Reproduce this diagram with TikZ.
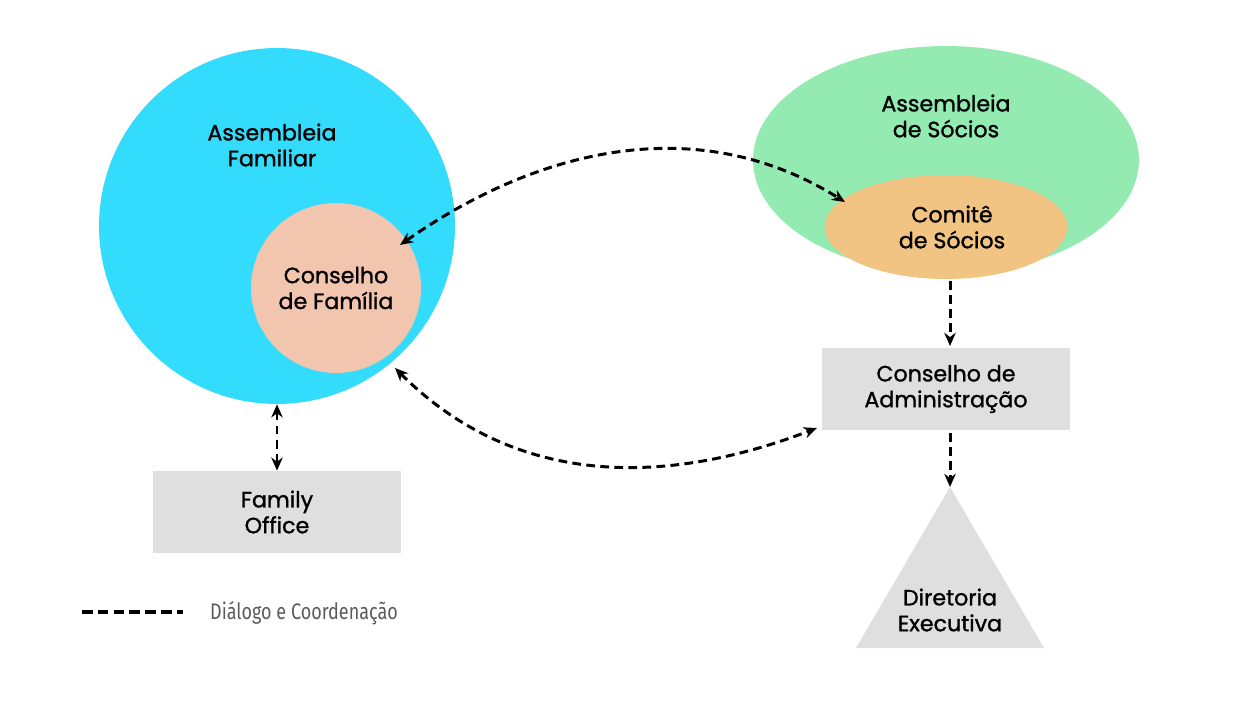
\documentclass[tikz,border=0pt]{standalone}
\usepackage{fontspec}
\setmainfont{Poppins}[FakeBold=1.2]
\newfontfamily\legendfont[FakeStretch=0.8]{Fira Sans}
\usetikzlibrary{shapes.geometric,arrows.meta}
\definecolor{famcyan}{HTML}{33DBFD}
\definecolor{famsalmon}{HTML}{F2C6AE}
\definecolor{socgreen}{HTML}{93EBB1}
\definecolor{socorange}{HTML}{F1C483}
\definecolor{boxgray}{HTML}{DFDFDF}
\definecolor{legendgray}{HTML}{5A5A5A}
\begin{document}
\begin{tikzpicture}[x=0.02cm,y=-0.02cm,line cap=butt,line join=round,
  lbl/.style={align=center,font=\fontsize{12.6}{14.7}\selectfont},
  grbox/.style={fill=boxgray,minimum width=4.96cm,minimum height=1.64cm,inner sep=0pt},
  dialog/.style={dash pattern=on 5pt off 3pt,line width=1.7pt,-{Stealth[length=7.5pt,width=6.5pt]}},
  dialog2/.style={dialog,{Stealth[length=7.5pt,width=6.5pt]}-{Stealth[length=7.5pt,width=6.5pt]}}]
\useasboundingbox (0,0) rectangle (1240,700);
\node[circle,fill=famcyan,minimum size=7.12cm,inner sep=0pt] (afam) at (277,226) {};
\node[lbl] (afamtxt) at (272,145) {Assembleia\\Familiar};
\node[circle,fill=famsalmon,minimum size=3.4cm,inner sep=0pt,lbl] (cfam) at (336,288) {Conselho\\de Família};
\node[ellipse,fill=socgreen,minimum width=7.72cm,minimum height=4.56cm,inner sep=0pt] (asoc) at (946,160) {};
\node[lbl] (asoctxt) at (946,116) {Assembleia\\de Sócios};
\node[ellipse,fill=socorange,minimum width=4.86cm,minimum height=2.08cm,inner sep=0pt] (csoc) at (946,227) {};
\node[lbl] (csoctxt) at (952,227) {Comitê\\de Sócios};
\node[grbox,lbl] (cadm) at (946,389) {Conselho de\\Administração};
\node[grbox,lbl] (fo) at (277,512) {Family\\Office};
\coordinate (apex) at (950,487);
\fill[boxgray] (apex) -- (1044,648) -- (856,648) -- cycle;
\node[lbl] (dir) at (950,610) {Diretoria\\Executiva};
% dialogo
\draw[dialog2] (400,245) to[out=35,in=148,looseness=0.98] (845,202);
\draw[dialog2] (395,368) to[out=-45,in=201] (817,428);
\draw[dialog2] (fo.north) -- (afam.south);
\draw[dialog] (950,281) -- (950,346);
\draw[dialog] (950,433) -- (apex);
% legenda
\coordinate (lega) at (82,612);
\coordinate (legb) at (183,612);
\draw[dash pattern=on 6pt off 3pt,line width=2pt] (lega) -- (legb);
\node[anchor=west,text=legendgray,font=\legendfont\fontsize{12.8}{14}\selectfont] (legtxt) at (204,613) {Diálogo e Coordenação};
\end{tikzpicture}
\end{document}
